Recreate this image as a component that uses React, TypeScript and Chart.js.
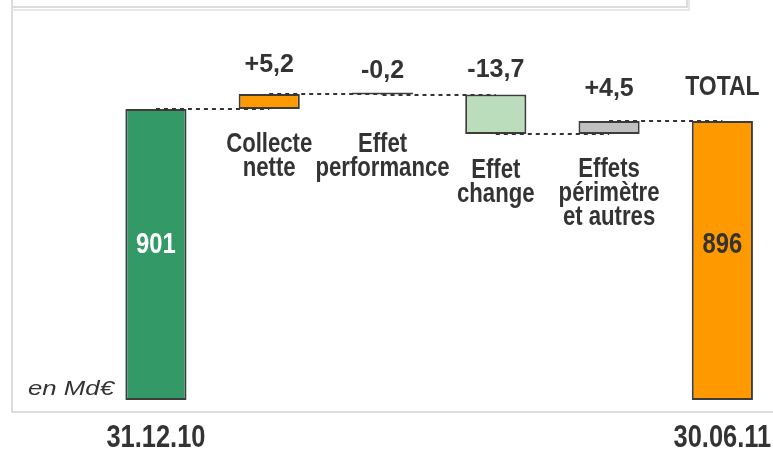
import React, { useEffect, useRef } from 'react';
import { Chart, registerables } from 'chart.js';

Chart.register(...registerables);

// ---------------- data ----------------
const endpointLabels = ['31.12.10', '30.06.11'];
const startValue = 901;
const startValueText = '901';
const totalValueText = '896';
const totalTitle = 'TOTAL';
const stepNames: string[][] = [
  ['Collecte', 'nette'],
  ['Effet', 'performance'],
  ['Effet', 'change'],
  ['Effets', 'périmètre', 'et autres'],
];
const stepDeltas = [5.2, -0.2, -13.7, 4.5];
const stepDeltaTexts = ['+5,2', '-0,2', '-13,7', '+4,5'];
const unitNote = 'en Md€';
const axisMin = 800;
const axisMax = 935;

// ---------------- style ----------------
const FAMILY = '"Liberation Sans", Arial, sans-serif';
const NARROW_SCALE = 0.82;
const TEXT = '#333333';
const barColors = ['#339966', '#FF9900', '#404040', '#BBDDBB', '#C0C0C0', '#FF9900'];
const valueGap = [22, 16, 18, 25];
const totalGap = 26;
const nameGap = [43, 57, 44, 43];
const nameLineH = 24;
const insideFromBottom = 147;
const dateFromBottom = 47;

function drawText(ctx: CanvasRenderingContext2D, text: string, x: number, y: number, font: string, color: string, sx = 1, align: CanvasTextAlign = 'center') {
  ctx.save();
  ctx.font = font;
  ctx.fillStyle = color;
  ctx.textAlign = align;
  ctx.textBaseline = 'alphabetic';
  ctx.translate(x, y);
  ctx.scale(sx, 1);
  ctx.fillText(text, 0, 0);
  ctx.restore();
}

export default function App() {
  const ref = useRef<HTMLCanvasElement>(null);

  useEffect(() => {
    if (!ref.current) return;
    const levels: number[] = [startValue];
    stepDeltas.forEach((d) => levels.push(levels[levels.length - 1] + d));
    const last = levels[levels.length - 1];
    const barData: [number, number][] = [
      [axisMin, startValue],
      ...stepDeltas.map((_, i) => [levels[i], levels[i + 1]] as [number, number]),
      [axisMin, last],
    ];
    const categories = [endpointLabels[0], ...stepDeltas.map(() => ''), endpointLabels[1]];

    const frame = {
      id: 'frame',
      beforeDraw(chart: any) {
        const ctx = chart.ctx;
        ctx.save();
        ctx.fillStyle = '#ffffff';
        ctx.fillRect(0, 0, chart.width, chart.height);
        ctx.strokeStyle = '#dcdcdc';
        ctx.lineWidth = 2;
        ctx.beginPath();
        ctx.moveTo(12, 0);
        ctx.lineTo(12, 412);
        ctx.lineTo(chart.width, 412);
        ctx.stroke();
        ctx.beginPath();
        ctx.moveTo(12, 7);
        ctx.lineTo(687, 7);
        ctx.lineTo(687, 0);
        ctx.stroke();
        ctx.strokeStyle = '#e8e8e8';
        ctx.beginPath();
        ctx.moveTo(12, 10);
        ctx.lineTo(689, 10);
        ctx.lineTo(689, 0);
        ctx.stroke();
        ctx.restore();
      },
    };

    const annotations = {
      id: 'annotations',
      afterDatasetsDraw(chart: any) {
        const ctx = chart.ctx as CanvasRenderingContext2D;
        const xs = chart.scales.x;
        const ys = chart.scales.y;
        const area = chart.chartArea;
        ctx.save();
        // connectors
        ctx.strokeStyle = '#333333';
        ctx.lineWidth = 2;
        ctx.setLineDash([4, 4]);
        levels.forEach((lv, i) => {
          const y = Math.round(ys.getPixelForValue(lv));
          ctx.beginPath();
          ctx.moveTo(xs.getPixelForValue(i), y);
          ctx.lineTo(xs.getPixelForValue(i + 1), y);
          ctx.stroke();
        });
        ctx.restore();
        // step values and names
        stepDeltas.forEach((_, i) => {
          const x = xs.getPixelForValue(i + 1);
          const top = ys.getPixelForValue(Math.max(levels[i], levels[i + 1]));
          const bottom = ys.getPixelForValue(Math.min(levels[i], levels[i + 1]));
          drawText(ctx, stepDeltaTexts[i], x, top - valueGap[i], `bold 25px ${FAMILY}`, TEXT);
          stepNames[i].forEach((line, k) => {
            drawText(ctx, line, x, bottom + nameGap[i] + k * nameLineH, `bold 27px ${FAMILY}`, TEXT, NARROW_SCALE);
          });
        });
        const n = levels.length;
        const x0 = xs.getPixelForValue(0);
        const xt = xs.getPixelForValue(n);
        drawText(ctx, totalTitle, xt, ys.getPixelForValue(last) - totalGap, `bold 28px ${FAMILY}`, TEXT, NARROW_SCALE);
        drawText(ctx, startValueText, x0, area.bottom - insideFromBottom, `bold 29px ${FAMILY}`, '#ffffff', NARROW_SCALE);
        drawText(ctx, totalValueText, xt, area.bottom - insideFromBottom, `bold 29px ${FAMILY}`, TEXT, NARROW_SCALE);
        // endpoint (axis) labels
        drawText(ctx, categories[0], x0, area.bottom + dateFromBottom, `bold 31px ${FAMILY}`, TEXT, NARROW_SCALE);
        drawText(ctx, categories[n], xt, area.bottom + dateFromBottom, `bold 31px ${FAMILY}`, TEXT, NARROW_SCALE);
        // unit note
        ctx.save();
        ctx.font = `italic 20px ${FAMILY}`;
        const w = ctx.measureText(unitNote).width;
        ctx.restore();
        drawText(ctx, unitNote, 28, area.bottom - 5, `italic 20px ${FAMILY}`, TEXT, 86 / w, 'left');
      },
    };

    const chart = new Chart(ref.current, {
      type: 'bar',
      data: {
        labels: categories,
        datasets: [
          {
            data: barData as any,
            backgroundColor: barColors,
            borderColor: '#3c3c3c',
            borderWidth: 2,
            borderSkipped: false,
            barPercentage: 0.54,
            categoryPercentage: 1,
            minBarLength: 2,
          },
        ],
      },
      options: {
        responsive: false,
        animation: false,
        layout: { padding: { left: 99.3, right: 2, top: 11, bottom: 51 } },
        plugins: { legend: { display: false }, tooltip: { enabled: false } },
        scales: {
          x: { display: false },
          y: { display: false, min: axisMin, max: axisMax },
        },
      },
      plugins: [frame, annotations],
    });
    return () => chart.destroy();
  }, []);

  return (
    <div style={{ position: 'fixed', left: 0, top: 0, width: 773, height: 451, overflow: 'hidden', background: '#fff' }}>
      <canvas ref={ref} width={781} height={451} style={{ display: 'block' }} />
    </div>
  );
}
